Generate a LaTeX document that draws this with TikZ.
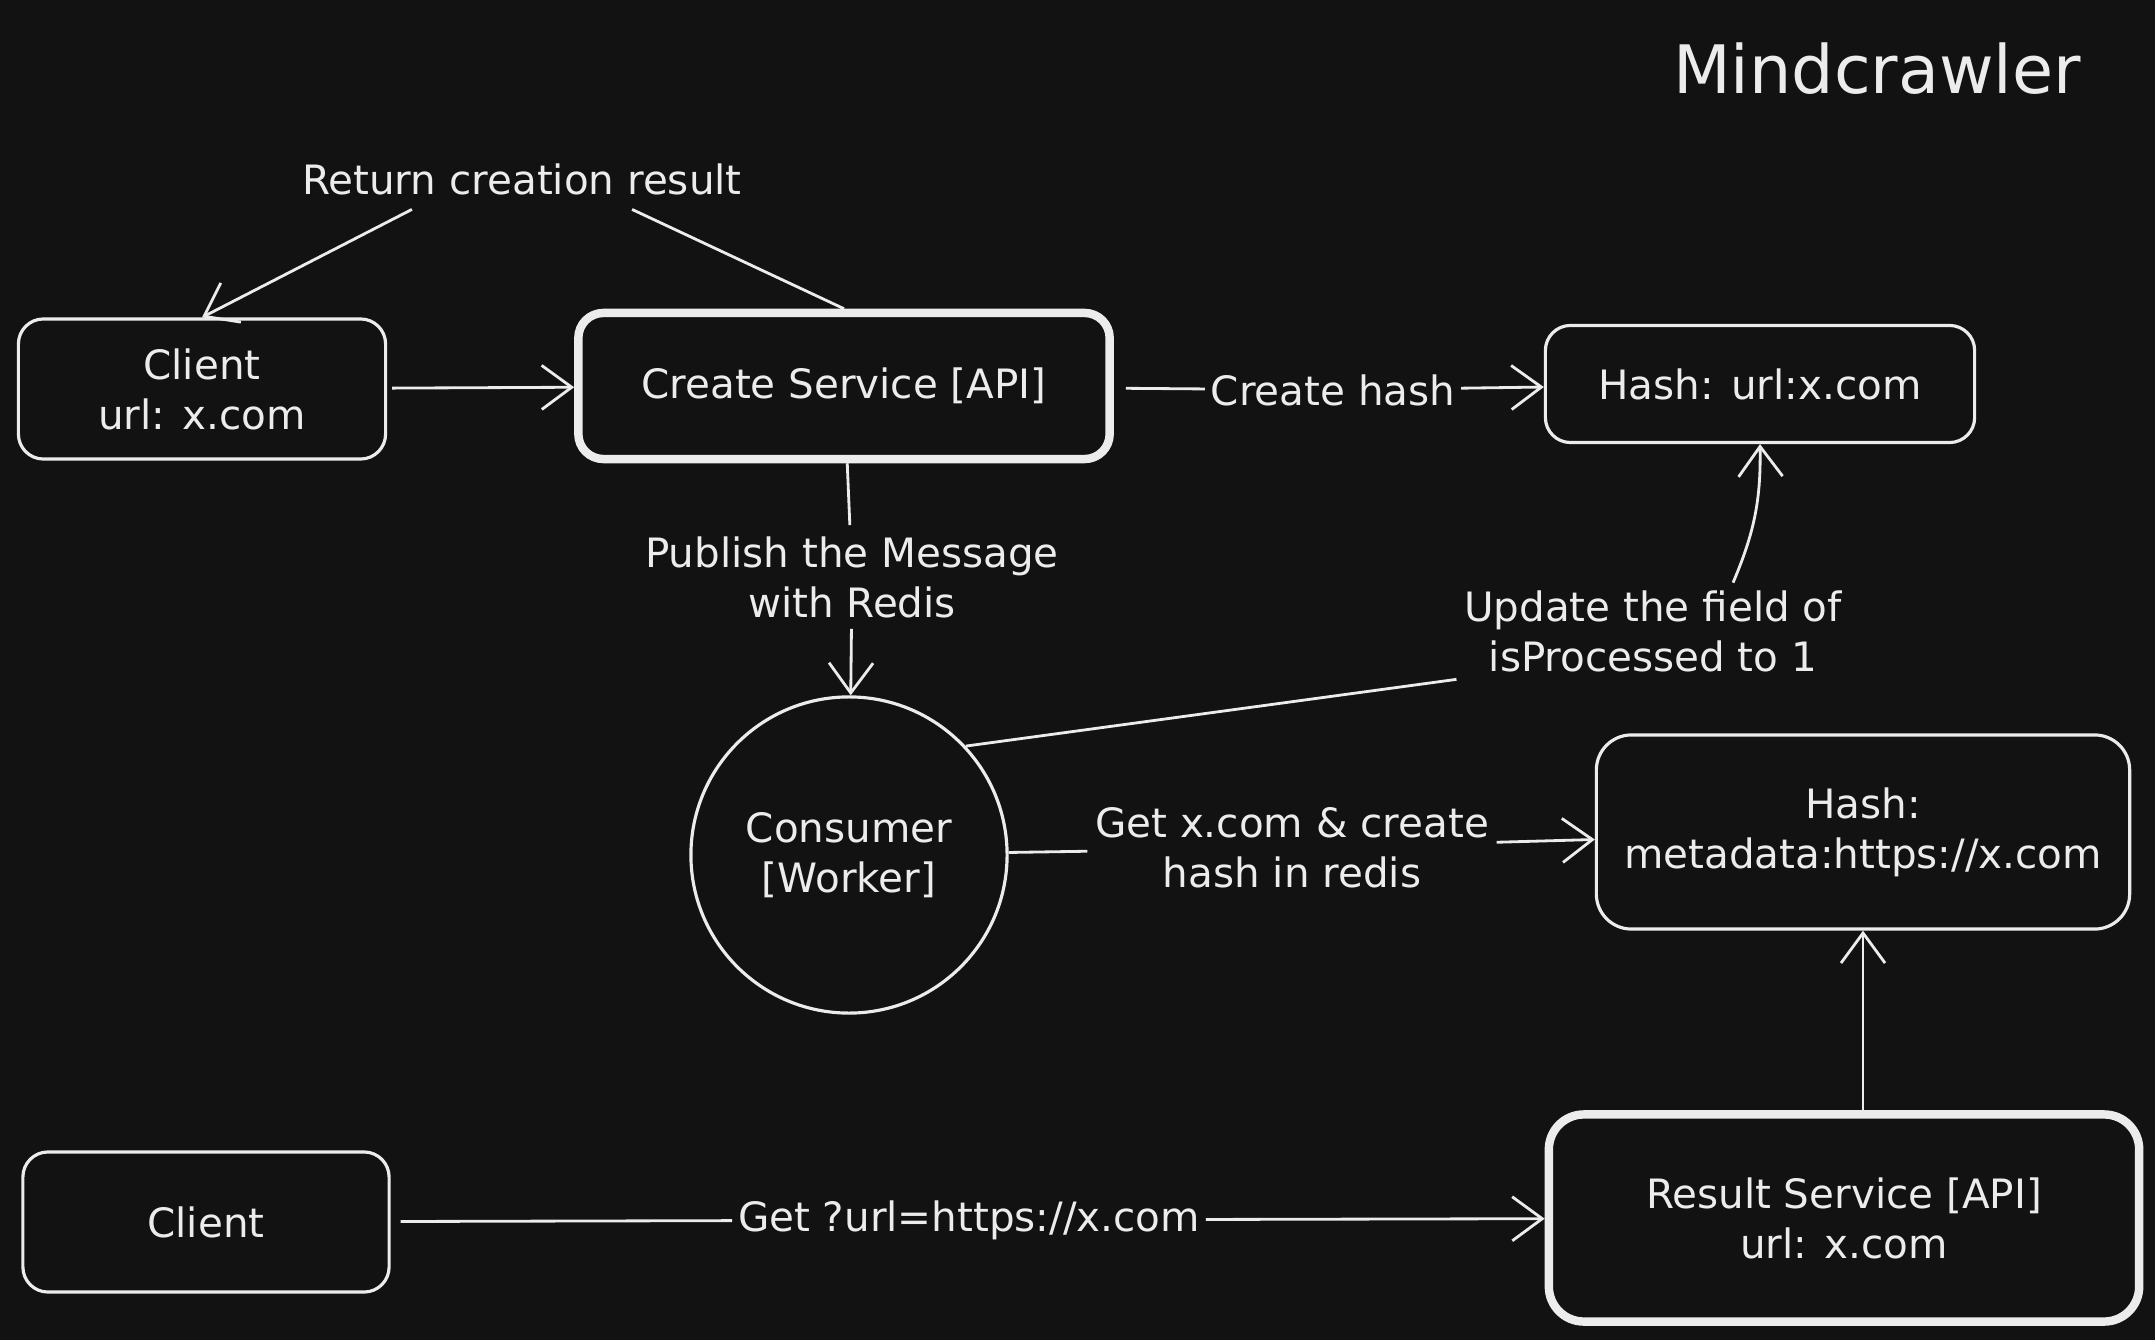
\documentclass[tikz,border=0pt]{standalone}
\usepackage{fontspec}
\setmainfont{DejaVu Sans}
\usetikzlibrary{arrows.meta}
\definecolor{bg}{HTML}{121212}
\definecolor{ink}{HTML}{ECECEC}
\tikzset{
  box/.style={draw=ink,fill=bg,text=ink,line width=0.9pt,rounded corners=2.5mm,align=center,inner sep=0pt,font=\fontsize{11.5}{14.2}\selectfont},
  boxthick/.style={box,line width=2.4pt},
  worker/.style={circle,draw=ink,fill=bg,text=ink,line width=0.9pt,align=center,inner sep=0pt,font=\fontsize{11.5}{14.2}\selectfont},
  lbl/.style={text=ink,align=center,inner sep=1.5pt,font=\fontsize{11.5}{14.2}\selectfont},
  lnk/.style={draw=ink,line width=0.8pt},
  arr/.style={lnk,-{Straight Barb[length=3mm,width=4.4mm]}},
}

\begin{document}
\begin{tikzpicture}[x=0.01cm,y=-0.01cm]
  \fill[bg] (0,0) rectangle (2155,1340);
  \useasboundingbox (0,0) rectangle (2155,1340);
  \node[lbl,font=\fontsize{19}{24}\selectfont] (title) at (1877,69) {Mindcrawler};
  % boxes
  \node[box,minimum width=3.67cm,minimum height=1.40cm] (client) at (202,389) {Client\\url: x.com};
  \node[boxthick,minimum width=5.31cm,minimum height=1.46cm] (create) at (844,386) {Create Service [API]};
  \node[box,minimum width=4.29cm,minimum height=1.17cm] (hashurl) at (1760,384) {Hash: url:x.com};
  \node[worker,minimum size=3.16cm] (consumer) at (849,855) {Consumer\\{[Worker]}};
  \node[box,rounded corners=3.5mm,minimum width=5.33cm,minimum height=1.94cm] (hashmeta) at (1863,832) {Hash:\\metadata:https://x.com};
  \node[box,minimum width=3.66cm,minimum height=1.40cm] (client2) at (206,1222) {Client};
  \node[boxthick,rounded corners=3.5mm,minimum width=5.90cm,minimum height=2.07cm] (result) at (1844,1218) {Result Service [API]\\url: x.com};
  % labels
  \node[lbl,inner sep=4pt] (ret) at (522,179) {Return creation result};
  \node[lbl] (hashc) at (1333,390) {Create hash};
  \node[lbl,inner sep=3pt] (pub) at (852,577) {Publish the Message\\with Redis};
  \node[lbl,inner sep=2pt] (upd) at (1653,631) {Update the field of\\isProcessed to 1};
  \node[lbl,inner sep=2pt] (getx) at (1292,848) {Get x.com \& create\\hash in redis};
  \node[lbl] (getq) at (969,1220) {Get ?url=https://x.com};
  % connectors
  \draw[arr] (create.north) -- ([xshift=1.1cm]ret.south) ([xshift=-1.1cm]ret.south) -- (client.north);
  \draw[arr,shorten <=0.5mm] (client) -- (create);
  \draw[lnk,shorten <=1.2mm] (create) -- (hashc);
  \draw[arr] (hashc) -- (hashurl);
  \draw[lnk] (create) -- (pub);
  \draw[arr] (pub) -- (consumer);
  \draw[lnk] (consumer.43) -- (upd.south west);
  \draw[arr] ([xshift=0.8cm]upd.north) to[bend right=12] (hashurl.south);
  \draw[lnk] (consumer) -- (getx);
  \draw[arr] (getx) -- (hashmeta);
  \draw[arr] (result.north -| hashmeta.south) -- (hashmeta.south);
  \draw[lnk,shorten <=1mm] (client2) -- (getq);
  \draw[arr] (getq) -- (result);
\end{tikzpicture}
\end{document}
